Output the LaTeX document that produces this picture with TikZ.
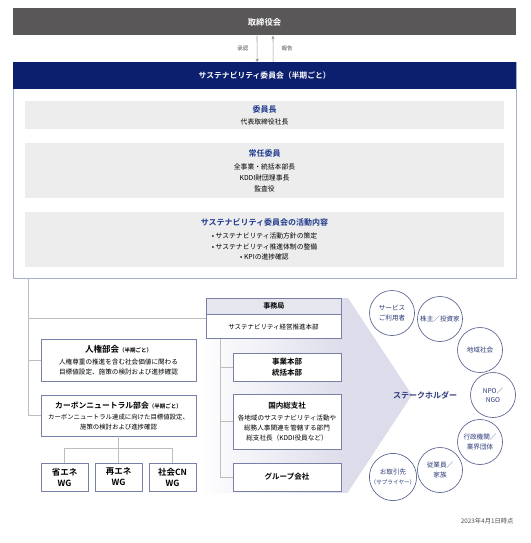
\documentclass[tikz,border=0pt]{standalone}
\usepackage{fontspec}
\setmainfont{Noto Sans CJK JP}[BoldFont={Noto Sans CJK JP Bold}]
\usepackage{xcolor}
\usepackage{tikz}
\usetikzlibrary{positioning,arrows.meta,calc}
\definecolor{boardgray}{HTML}{595757}
\definecolor{cmtnavy}{HTML}{0B1F6E}
\definecolor{titlenavy}{HTML}{1F3A8C}
\definecolor{panelgray}{HTML}{EDEDED}
\definecolor{framegray}{HTML}{A9B0CC}
\definecolor{boxblue}{HTML}{7880A8}
\definecolor{linegray}{HTML}{BDBDBD}
\definecolor{headgray}{HTML}{E6E6EE}
\definecolor{chevlav}{HTML}{DCDCEB}
\definecolor{ringblue}{HTML}{4A5585}
\definecolor{holdertext}{HTML}{2B3A78}

\begin{document}
\begin{tikzpicture}[x=1pt,y=-1pt,
  conn/.style={draw=linegray, line width=0.8pt},
  flow/.style={draw=gray!80, line width=0.6pt, -{Triangle[length=3pt,width=3pt]}},
  orgbox/.style={draw=boxblue, fill=white, line width=0.6pt, align=center, inner sep=0pt},
  panel/.style={fill=panelgray, minimum width=479pt, align=center, inner sep=0pt},
  wgbox/.style={orgbox, minimum width=47pt, minimum height=28pt, font=\fontsize{8.5}{11}\selectfont\bfseries},
  rightbox/.style={orgbox, minimum width=108pt},
  holder/.style={circle, draw=ringblue, line width=0.6pt, fill=white, minimum size=45pt, inner sep=0pt, align=center, text=holdertext, font=\fontsize{6.6}{9.5}\selectfont}]
\useasboundingbox (0,0) rectangle (530,543);

% Stakeholder arrow
\shade[left color=white, right color=chevlav] (200,298) rectangle (348,492);
\fill[chevlav] (348,298) -- (412,395) -- (348,492) -- cycle;
\node[text=holdertext, font=\fontsize{8}{9}\selectfont\bfseries] (stake) at (425,395) {ステークホルダー};

% Board and committee
\node[fill=boardgray, text=white, minimum width=503pt, minimum height=27pt, inner sep=0pt,
  font=\fontsize{8.3}{10}\selectfont\bfseries] (board) at (264.5,22) {取締役会};
\node[draw=framegray, line width=0.8pt, minimum width=503pt, minimum height=216pt, inner sep=0pt,
  anchor=north west] (cmt) at (13,62) {};
\node[fill=cmtnavy, text=white, minimum width=503pt, minimum height=27pt, inner sep=0pt,
  anchor=north west, font=\fontsize{7.8}{10}\selectfont\bfseries] (cmthead) at (13,62) {サステナビリティ委員会（半期ごと）};

\draw[flow] ([xshift=-7.5pt]board.south) -- ([xshift=-7.5pt]cmthead.north)
  node[midway, left=5pt, text=black!70, font=\fontsize{5.5}{6}\selectfont] {承認};
\draw[flow] ([xshift=8.5pt]cmthead.north) -- ([xshift=8.5pt]board.south)
  node[midway, right=5pt, text=black!70, font=\fontsize{5.5}{6}\selectfont] {報告};

\node[panel, minimum height=28pt, font=\fontsize{6.8}{12}\selectfont] (chair) at (264.5,115)
  {{\color{titlenavy}\fontsize{8}{10}\selectfont\bfseries 委員長}\\ 代表取締役社長};
\node[panel, minimum height=55pt, font=\fontsize{6.8}{11}\selectfont] (member) at (264.5,170.5)
  {{\color{titlenavy}\fontsize{8}{10}\selectfont\bfseries 常任委員}\\[2pt] 全事業・統括本部長\\ KDDI財団理事長\\ 監査役};
\node[panel, minimum height=55pt, font=\fontsize{6.8}{10.5}\selectfont] (activity) at (264.5,239.5)
  {{\color{titlenavy}\fontsize{8}{10}\selectfont\bfseries サステナビリティ委員会の活動内容}\\[2.5pt]
   • サステナビリティ活動方針の策定\\ • サステナビリティ推進体制の整備\\ • KPIの進捗確認};

% Subcommittees
\node[orgbox, minimum width=155pt, minimum height=42pt, font=\fontsize{6.6}{9.5}\selectfont] (rights) at (118.5,360)
  {{\fontsize{8.5}{10}\selectfont\bfseries 人権部会}{\fontsize{5.5}{10}\selectfont\bfseries （半期ごと）}\\[2.5pt]
   人権尊重の推進を含む社会価値に関わる\\ 目標値設定、施策の検討および進捗確認};
\node[orgbox, minimum width=155pt, minimum height=41pt, font=\fontsize{6.4}{10}\selectfont] (carbon) at (118.5,415.5)
  {{\fontsize{7.8}{10}\selectfont\bfseries カーボンニュートラル部会}{\fontsize{5.5}{10}\selectfont\bfseries （半期ごと）}\\[1pt]
   カーボンニュートラル達成に向けた目標値設定、\\ 施策の検討および進捗確認};
\node[wgbox] (wgsave) at (64.5,477) {省エネ\\WG};
\node[wgbox] (wgrenew) at (118.5,477) {再エネ\\WG};
\node[wgbox] (wgcn) at (172.5,477) {社会CN\\WG};

% Secretariat and divisions
\node[orgbox, minimum width=135pt, minimum height=40pt, anchor=north west] (office) at (206,298) {};
\node[orgbox, fill=headgray, minimum width=135pt, minimum height=16pt, anchor=north,
  font=\fontsize{7}{9}\selectfont\bfseries] (officehead) at (office.north) {事務局};
\node[font=\fontsize{6.5}{9}\selectfont, inner sep=0pt] (officebody) at (273.5,327) {サステナビリティ経営推進本部};
\node[rightbox, minimum height=28pt, font=\fontsize{7.5}{11}\selectfont\bfseries] (business) at (287,367) {事業本部\\統括本部};
\node[rightbox, minimum height=55pt, font=\fontsize{6.6}{10}\selectfont] (regional) at (287,421.5)
  {{\fontsize{7.5}{10}\selectfont\bfseries 国内総支社}\\[2pt]
   各地域のサステナビリティ活動や\\ 総務人事関連を管轄する部門\\ 総支社長（KDDI役員など）};
\node[rightbox, minimum height=28pt, font=\fontsize{7.5}{10}\selectfont\bfseries] (group) at (287,477) {グループ会社};

% Connectors
\coordinate (ltrunk) at ([xshift=15pt]cmt.south west);
\draw[conn] (ltrunk) |- (carbon.west);
\draw[conn] (ltrunk |- office.west) -- (office.west);
\draw[conn] (ltrunk |- rights.west) -- (rights.west);
\draw[conn] (carbon.south) -- (wgrenew.north);
\draw[conn] (wgsave.north) -- ++(0,-14) -| (wgcn.north);
\coordinate (rtrunk) at ([xshift=14pt]office.south west);
\draw[conn] (rtrunk) |- (group.west);
\draw[conn] (rtrunk |- business.west) -- (business.west);
\draw[conn] (rtrunk |- regional.west) -- (regional.west);

% Stakeholders
\node[holder] (user) at (392,313) {サービス\\ご利用者};
\node[holder] (investor) at (440,319) {株主／投資家};
\node[holder] (community) at (480,350) {地域社会};
\node[holder] (npo) at (493,395) {NPO／\\NGO};
\node[holder] (public) at (480,442) {行政機関／\\業界団体};
\node[holder] (staff) at (440,470) {従業員／\\家族};
\node[holder] (supplier) at (393,477) {お取引先\\{\fontsize{5.6}{8}\selectfont（サプライヤー）}};

\node[anchor=east, text=black!70, font=\fontsize{6.3}{8}\selectfont] (asof) at (517,521) {2023年4月1日時点};
\end{tikzpicture}
\end{document}
